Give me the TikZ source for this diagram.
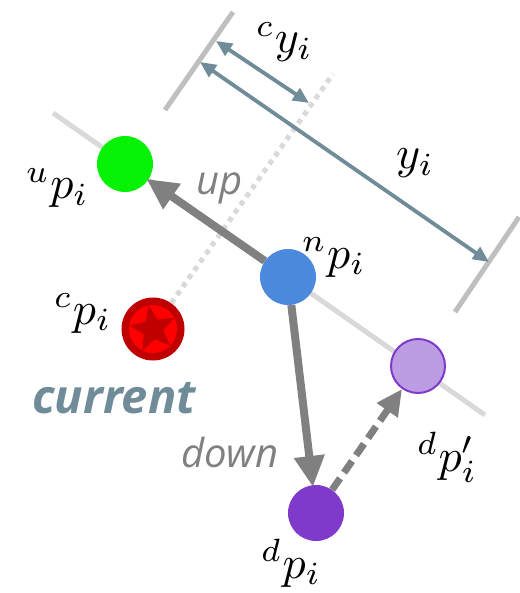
\documentclass[tikz,border=0pt]{standalone}
\usepackage{fontspec}
\newfontfamily\osans{Open Sans}
\usetikzlibrary{arrows.meta,shapes.geometric}
\definecolor{dimc}{HTML}{6F8C98}
\definecolor{lgray}{HTML}{D9D9D9}
\definecolor{mgray}{HTML}{BFBFBF}
\definecolor{agray}{HTML}{808080}
\definecolor{ngreen}{HTML}{05F205}
\definecolor{nblue}{HTML}{4A89DC}
\definecolor{npurple}{HTML}{7F3ACC}
\definecolor{lpurple}{HTML}{BC9CE2}
\definecolor{dred}{HTML}{C00000}
\definecolor{bred}{HTML}{FF0000}
\newcommand{\mylabmath}[1]{\scalebox{4.6}{$#1$}}
\begin{document}
\begin{tikzpicture}[x=1pt,y=-1pt,
  pt/.style={circle,inner sep=0pt,minimum size=56pt},
  lab/.style={inner sep=0pt,anchor=base west},
  wordlab/.style={font=\osans\itshape\fontsize{40}{46}\selectfont,text=agray,inner sep=0pt,anchor=base west},
  guide/.style={lgray,line width=5pt},
  bound/.style={mgray,line width=5pt},
  dimarrow/.style={dimc,line width=3.8pt,{Triangle[length=16pt,width=14pt]}-{Triangle[length=16pt,width=14pt]}},
  bigarrow/.style={agray,line width=8pt,-{Triangle[length=31pt,width=29pt]},shorten >=-2pt},
]
\useasboundingbox (0,0) rectangle (519,593);
% guide lines
\coordinate (L1) at (53,113);
\coordinate (L2) at (485,415);
\draw[guide] (L1) -- (L2);
\coordinate (B1a) at (233,12);
\coordinate (B1b) at (165,110);
\coordinate (B2a) at (519,217);
\coordinate (B2b) at (455,312);
\draw[bound] (B1a) -- (B1b);
\draw[bound] (B2a) -- (B2b);
\coordinate (T) at (333,74);
% nodes
\node[pt,fill=ngreen] (u) at (125,164) {};
\node[pt,fill=nblue] (n) at (288,277) {};
\node[pt,fill=npurple] (d) at (316,513) {};
\node[pt,fill=lpurple,draw=npurple,line width=2pt,minimum size=54pt] (dp) at (418,366) {};
\node[circle,inner sep=0pt,minimum size=63pt,fill=dred] (c) at (153,329) {};
\node[circle,inner sep=0pt,minimum size=48pt,fill=bred] (cin) at (c) {};
\node[star,star points=5,star point ratio=2.3,minimum size=48pt,inner sep=0pt,fill=dred,rotate=10] (cstar) at (c) {};
% dotted line
\draw[guide,dash pattern=on 5pt off 5pt] (c) -- (T);
% dimension arrows
\coordinate (cy1) at (216,41);
\coordinate (cy2) at (309,103);
\coordinate (y1) at (200,62);
\coordinate (y2) at (489,262);
\draw[dimarrow] (cy1) -- (cy2);
\draw[dimarrow] (y1) -- (y2);
% movement arrows
\draw[bigarrow] (n) -- (u);
\draw[bigarrow] (n) -- (d);
\draw[agray,line width=7pt,dash pattern=on 14pt off 7pt,-{Triangle[length=26pt,width=24pt]}] (d) -- (dp);
% labels
\node[lab] (lu) at (26,199) {\mylabmath{{}^{u}p_i}};
\node[lab] (lc) at (54,324) {\mylabmath{{}^{c}p_i}};
\node[lab] (ln) at (302,268) {\mylabmath{{}^{n}p_i}};
\node[lab] (ld) at (261,578) {\mylabmath{{}^{d}p_i}};
\node[lab] (ldp) at (417,471) {\mylabmath{{}^{d}p'_i}};
\node[lab] (lcy) at (256,53) {\mylabmath{{}^{c}y_i}};
\node[lab] (ly) at (396,169) {\mylabmath{y_i}};
\node[wordlab] (wup) at (196,195) {up};
\node[wordlab] (wdown) at (181,467) {down};
\node[font=\osans\bfseries\itshape\fontsize{47}{54}\selectfont,text=dimc,inner sep=0pt,anchor=base west] (wcur) at (32,413) {current};
\end{tikzpicture}
\end{document}
